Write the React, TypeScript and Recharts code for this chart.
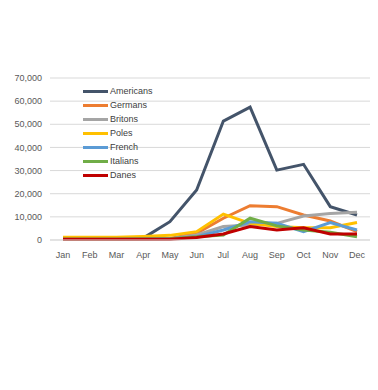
import React from "react";
import { LineChart, Line, XAxis, YAxis, CartesianGrid } from "recharts";

const months = ["Jan", "Feb", "Mar", "Apr", "May", "Jun", "Jul", "Aug", "Sep", "Oct", "Nov", "Dec"];
const americans = [300, 300, 300, 800, 7900, 21600, 51400, 57400, 30200, 32700, 14400, 10800];
const germans = [500, 500, 500, 600, 700, 2900, 9400, 14800, 14400, 10800, 8200, 3600];
const britons = [400, 400, 400, 500, 600, 2200, 5800, 6500, 7200, 10400, 11500, 12000];
const poles = [1200, 1200, 1200, 1500, 2000, 3600, 11200, 7200, 5800, 5300, 5300, 7600];
const french = [300, 300, 300, 400, 500, 1400, 4300, 7900, 7200, 3600, 7500, 4300];
const italians = [300, 300, 300, 400, 500, 1400, 2200, 9400, 6100, 4300, 3300, 1400];
const danes = [300, 300, 300, 300, 300, 1100, 2600, 5800, 4300, 5300, 2600, 2600];
const yTicks = [0, 10000, 20000, 30000, 40000, 50000, 60000, 70000];

const seriesDefs = [
  { key: "Americans", values: americans, color: "#44546A" },
  { key: "Germans", values: germans, color: "#ED7D31" },
  { key: "Britons", values: britons, color: "#A5A5A5" },
  { key: "Poles", values: poles, color: "#FFC000" },
  { key: "French", values: french, color: "#5B9BD5" },
  { key: "Italians", values: italians, color: "#70AD47" },
  { key: "Danes", values: danes, color: "#C00000" },
];

const data = months.map((m, i) => {
  const row: Record<string, any> = { month: m };
  seriesDefs.forEach((s) => (row[s.key] = s.values[i]));
  return row;
});

const FONT = "'Liberation Sans', Arial, sans-serif";

export default function App() {
  return (
    <div style={{ position: "absolute", left: 0, top: 0, width: 378, height: 390, background: "#fff" }}>
      <LineChart
        width={378}
        height={390}
        data={data}
        margin={{ top: 78, right: 8, bottom: 120, left: 0 }}
      >
        <CartesianGrid vertical={false} stroke="#d9d9d9" strokeWidth={1} />
        <XAxis
          dataKey="month"
          axisLine={{ stroke: "#d9d9d9" }}
          tickLine={false}
          tickMargin={6}
          height={30}
          interval={0}
          padding={{ left: 13, right: 13 }}
          tick={{ fontFamily: FONT, fontSize: 9, fill: "#595959" }}
        />
        <YAxis
          width={50}
          domain={[0, 70000]}
          ticks={yTicks}
          axisLine={false}
          tickLine={false}
          tickFormatter={(v: number) => v.toLocaleString("en-US")}
          tick={{ fontFamily: FONT, fontSize: 9, fill: "#595959" }}
        />
        {seriesDefs.map((s) => (
          <Line
            key={s.key}
            type="linear"
            dataKey={s.key}
            stroke={s.color}
            strokeWidth={3}
            dot={false}
            isAnimationActive={false}
          />
        ))}
      </LineChart>
      <div
        style={{
          position: "absolute",
          left: 83,
          top: 84,
          fontFamily: FONT,
          fontSize: 9,
          color: "#404040",
          background: "transparent",
        }}
      >
        {seriesDefs.map((s) => (
          <div key={s.key} style={{ display: "flex", alignItems: "center", height: 14 }}>
            <div style={{ width: 25, height: 3, background: s.color, marginRight: 2 }} />
            <span>{s.key}</span>
          </div>
        ))}
      </div>
    </div>
  );
}
